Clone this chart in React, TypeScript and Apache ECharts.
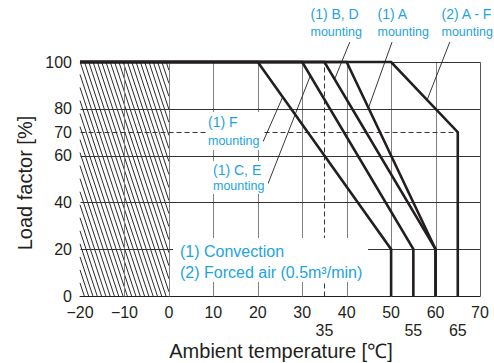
import React, { useEffect, useRef } from "react";
import * as echarts from "echarts";

// ---- data ----
const CURVE_F = [[-20, 100], [20, 100], [50, 20], [50, 0]];
const CURVE_CE = [[-20, 100], [30, 100], [55, 20], [55, 0]];
const CURVE_BD = [[-20, 100], [35, 100], [60, 20], [60, 0]];
const CURVE_A = [[-20, 100], [40, 100], [60, 20], [60, 0]];
const CURVE_FORCED = [[-20, 100], [50, 100], [65, 70], [65, 0]];

const LEADER_F = [[21.2, 66], [25.6, 85]];
const LEADER_CE = [[22.3, 48], [31.8, 94]];
const LEADER_BD = [[40.7, 108.5], [37.3, 92.7]];
const LEADER_A = [[50.2, 108.5], [44.9, 80.3]];
const LEADER_FORCED = [[63.2, 108.5], [58.1, 83.8]];

const X_MAIN = [-20, -10, 0, 10, 20, 30, 40, 50, 60, 70];
const X_LOW = [35, 55, 65];
const Y_LABELS = [0, 20, 40, 60, 70, 80, 100];
const V_GRID = [-10, 0, 10, 20, 30, 40, 50, 60];
const H_GRID = [20, 40, 60, 80];
const DASHED_V = 35;
const DASHED_H = 70;
const DASHED_H_END = 65;
const HATCH = [-20, 0, 0, 100];
const X_MIN = -20, X_MAX = 70, Y_MIN = 0, Y_MAX = 100;

const BLUE = "#1ea3e0";
const INK = "#231f20";
const FONT = "'Liberation Sans', Arial, Helvetica, sans-serif";

// gridline rows: x1, y1, x2, y2, kind (0 vertical grey, 1 horizontal dark, 2 dashed, 3 border)
const gridRows: number[][] = [
  ...V_GRID.map((v) => [v, Y_MIN, v, Y_MAX, 0]),
  ...H_GRID.map((v) => [X_MIN, v, X_MAX, v, 1]),
  [DASHED_V, Y_MIN, DASHED_V, Y_MAX, 2],
  [X_MIN, DASHED_H, DASHED_H_END, DASHED_H, 2],
  [X_MIN, Y_MAX, X_MAX, Y_MAX, 3],
  [X_MAX, Y_MIN, X_MAX, Y_MAX, 4],
];

function curveSeries(name: string, data: number[][]) {
  return {
    name,
    type: "line",
    data,
    symbol: "none",
    clip: false,
    z: 5,
    lineStyle: { color: INK, width: 2.6, join: "miter" },
  };
}
function leaderSeries(name: string, data: number[][]) {
  return {
    name,
    type: "line",
    data,
    symbol: "none",
    clip: false,
    z: 6,
    lineStyle: { color: INK, width: 0.9 },
  };
}

function txt(text: string, x: number, y: number, size: number, extra: any = {}) {
  return {
    type: "text",
    x,
    y,
    z: 120,
    style: {
      text,
      fill: BLUE,
      fontSize: size,
      fontFamily: FONT,
      align: "left",
      verticalAlign: "middle",
      ...extra,
    },
  };
}

export default function App() {
  const ref = useRef<HTMLDivElement>(null);
  useEffect(() => {
    if (!ref.current) return;
    const chart = echarts.init(ref.current, undefined, { renderer: "svg" });
    const option: any = {
      animation: false,
      backgroundColor: "#ffffff",
      grid: { left: 80, right: 14, top: 62, bottom: 67 },
      xAxis: {
        type: "value",
        min: X_MIN,
        max: X_MAX,
        interval: 5,
        axisLine: { show: true, onZero: false, lineStyle: { color: INK, width: 1 } },
        axisTick: { show: false },
        splitLine: { show: false },
        axisLabel: {
          interval: 0,
          margin: 7,
          fontSize: 16,
          lineHeight: 18,
          color: INK,
          fontFamily: FONT,
          showMinLabel: true,
          showMaxLabel: true,
          formatter: (v: number) => {
            if (X_MAIN.includes(v)) return v < 0 ? "\u2212" + Math.abs(v) : String(v);
            if (X_LOW.includes(v)) return "\n" + v;
            return "";
          },
        },
      },
      yAxis: {
        type: "value",
        min: Y_MIN,
        max: Y_MAX,
        interval: 10,
        axisLine: { show: true, lineStyle: { color: "#7a7a7a", width: 1 } },
        axisTick: { show: false },
        splitLine: { show: false },
        axisLabel: {
          interval: 0,
          margin: 8,
          fontSize: 16,
          color: INK,
          fontFamily: FONT,
          showMinLabel: true,
          showMaxLabel: true,
          formatter: (v: number) => (Y_LABELS.includes(v) ? String(v) : ""),
        },
      },
      series: [
        {
          name: "hatch",
          type: "custom",
          z: 1,
          clip: false,
          data: [HATCH],
          renderItem: (params: any, api: any) => {
            const tl = api.coord([api.value(0), api.value(3)]);
            const br = api.coord([api.value(1), api.value(2)]);
            const left = tl[0], top = tl[1], right = br[0], bottom = br[1];
            const h = bottom - top;
            const k = 0.33;
            const step = 4.3;
            const children: any[] = [];
            for (let x0 = left - h * k; x0 < right; x0 += step) {
              let sx = x0, sy = top;
              if (sx < left) { sy = top + (left - x0) / k; sx = left; }
              let ex = x0 + h * k, ey = bottom;
              if (ex > right) { ey = top + (right - x0) / k; ex = right; }
              if (sy >= bottom || sx >= right) continue;
              children.push({
                type: "line",
                shape: { x1: sx, y1: sy, x2: ex, y2: ey },
                style: { stroke: "#111111", lineWidth: 0.9 },
              });
            }
            return { type: "group", children };
          },
        },
        {
          name: "gridlines",
          type: "custom",
          z: 2,
          clip: false,
          data: gridRows,
          renderItem: (params: any, api: any) => {
            const p1 = api.coord([api.value(0), api.value(1)]);
            const p2 = api.coord([api.value(2), api.value(3)]);
            const kind = api.value(4);
            const r = (n: number) => Math.round(n) + 0.5;
            let stroke = "#808080";
            let lineDash: any = null;
            if (kind === 1) stroke = "#333333";
            if (kind === 2) { stroke = "#333333"; lineDash = [5, 3]; }
            if (kind === 3) stroke = "#333333";
            if (kind === 4) stroke = "#555555";
            return {
              type: "line",
              shape: { x1: r(p1[0]), y1: r(p1[1]), x2: r(p2[0]), y2: r(p2[1]) },
              style: { stroke, lineWidth: 1, lineDash },
            };
          },
        },
        curveSeries("(1) F mounting", CURVE_F),
        curveSeries("(1) C, E mounting", CURVE_CE),
        curveSeries("(1) B, D mounting", CURVE_BD),
        curveSeries("(1) A mounting", CURVE_A),
        curveSeries("(2) A - F mounting", CURVE_FORCED),
        leaderSeries("leader F", LEADER_F),
        leaderSeries("leader CE", LEADER_CE),
        leaderSeries("leader BD", LEADER_BD),
        leaderSeries("leader A", LEADER_A),
        leaderSeries("leader forced", LEADER_FORCED),
      ],
      graphic: [
        { type: "rect", z: 110, shape: { x: 173, y: 238, width: 195, height: 44 }, style: { fill: "#ffffff" } },
        { type: "rect", z: 110, shape: { x: 206, y: 112, width: 57, height: 38 }, style: { fill: "#ffffff" } },
        { type: "rect", z: 110, shape: { x: 211, y: 161, width: 57, height: 33 }, style: { fill: "#ffffff" } },
        txt("(1) B, D", 310.5, 14, 14),
        txt("mounting", 310.5, 32, 12.5),
        txt("(1) A", 377.5, 14, 14),
        txt("mounting", 377.5, 32, 12.5),
        txt("(2) A - F", 441.5, 14, 14),
        txt("mounting", 441.5, 32, 12.5),
        txt("(1) F", 208, 122, 14),
        txt("mounting", 208, 141, 12.5),
        txt("(1) C, E", 213, 170, 14),
        txt("mounting", 213, 186, 12.5),
        txt("(1) Convection", 180, 251, 16),
        txt("(2) Forced air (0.5m\u00b3/min)", 180, 272.5, 16),
        {
          type: "text",
          x: 281,
          y: 351,
          z: 120,
          style: {
            text: "Ambient temperature [\u2103]",
            fill: INK,
            fontSize: 20,
            fontFamily: FONT,
            align: "center",
            verticalAlign: "middle",
          },
        },
        {
          type: "text",
          x: 25,
          y: 183,
          rotation: Math.PI / 2,
          z: 120,
          style: {
            text: "Load factor [%]",
            fill: INK,
            fontSize: 20,
            fontFamily: FONT,
            align: "center",
            verticalAlign: "middle",
          },
        },
      ],
    };
    chart.setOption(option);
    return () => chart.dispose();
  }, []);
  return (
    <div
      ref={ref}
      style={{ position: "fixed", left: 0, top: 0, width: 494, height: 363, background: "#fff" }}
    />
  );
}
